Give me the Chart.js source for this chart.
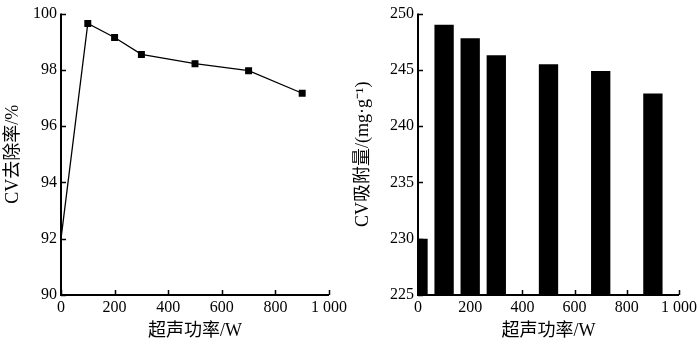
<!DOCTYPE html>
<html>
<head>
<meta charset="utf-8">
<script src="https://cdn.jsdelivr.net/npm/chart.js@4/dist/chart.umd.min.js"></script>
<style>
  html, body { margin: 0; padding: 0; background: #fff; }
  #wrap { position: relative; width: 700px; height: 345px; }
  .box { position: absolute; top: 0; width: 350px; height: 345px; }
  #leftBox { left: 0; }
  #rightBox { left: 350px; }
</style>
</head>
<body>
<div id="wrap">
  <div class="box" id="leftBox"><canvas id="removal-chart"></canvas></div>
  <div class="box" id="rightBox"><canvas id="adsorb-chart"></canvas></div>
</div>
<script>
// data
const powers = [0, 100, 200, 300, 500, 700, 900];            // 超声功率/W
const removalRate = [92.0, 99.65, 99.15, 98.55, 98.22, 97.97, 97.17];  // CV去除率/%
const adsorption = [230.0, 249.0, 247.8, 246.3, 245.5, 244.9, 242.9];  // CV吸附量/(mg·g-1)

const FONT = "'Liberation Serif', 'Noto Sans CJK SC', serif";
Chart.defaults.font.family = FONT;
Chart.defaults.font.size = 16;
Chart.defaults.color = '#000';

// ticks in the original point inward, draw them over the plot
const inwardTicks = {
	id: 'inwardTicks',
	afterDatasetsDraw(chart) {
		const { ctx, chartArea } = chart;
		const x = chart.scales.x;
		const y = chart.scales.y;
		ctx.save();
		ctx.strokeStyle = '#000';
		ctx.lineWidth = 1.5;
		ctx.beginPath();
		x.ticks.forEach((t, i) => {
			const px = Math.round(x.getPixelForTick(i)) + 0.5;
			ctx.moveTo(px, chartArea.bottom);
			ctx.lineTo(px, chartArea.bottom - 5);
		});
		y.ticks.forEach((t, i) => {
			const py = Math.round(y.getPixelForTick(i)) + 0.5;
			ctx.moveTo(chartArea.left, py);
			ctx.lineTo(chartArea.left + 5, py);
		});
		ctx.stroke();
		// axis lines on top of the marks
		ctx.lineWidth = 2;
		ctx.beginPath();
		ctx.moveTo(chartArea.left, chartArea.top);
		ctx.lineTo(chartArea.left, chartArea.bottom);
		ctx.lineTo(chartArea.right, chartArea.bottom);
		ctx.stroke();
		ctx.restore();
	}
};

function powerLabel(v) {
	return v === 1000 ? '1 000' : String(v);
}

function xAxis(afterFitHeight) {
	return {
		type: 'linear',
		min: 0,
		max: 1000,
		offset: false,
		ticks: { stepSize: 200, padding: 3, maxRotation: 0, callback: powerLabel },
		grid: { display: false, drawTicks: false, offset: false },
		border: { display: false },
		title: { display: true, text: '超声功率/W', font: { size: 18 }, padding: { top: 0, bottom: 3 } },
		afterFit(scale) { scale.height = afterFitHeight; }
	};
}

function yAxis(min, max, step, titleText, width) {
	return {
		min: min,
		max: max,
		beginAtZero: false,
		ticks: { stepSize: step, padding: 4 },
		grid: { display: false, drawTicks: false },
		border: { display: false },
		title: { display: true, text: titleText, font: { size: 18 }, padding: { top: 2, bottom: 0 } },
		afterFit(scale) { scale.width = width; }
	};
}

// left: removal rate line chart
const removalCtx = document.getElementById('removal-chart').getContext('2d');
const removalChart = new Chart(removalCtx, {
	type: 'line',
	data: {
		datasets: [{
			label: 'CV去除率',
			data: powers.map((p, i) => ({ x: p, y: removalRate[i] })),
			borderColor: '#000',
			backgroundColor: '#000',
			borderWidth: 1.3,
			pointStyle: 'rect',
			pointRadius: ctx => ctx.dataIndex === 0 ? 0 : 4,
			tension: 0,
			fill: false
		}]
	},
	options: {
		responsive: true,
		maintainAspectRatio: false,
		animation: false,
		layout: { padding: { top: 9, right: 20, left: 0, bottom: 0 } },
		plugins: { legend: { display: false }, tooltip: { enabled: false } },
		scales: {
			x: xAxis(50),
			y: yAxis(90, 100, 2, 'CV去除率/%', 61)
		}
	},
	plugins: [inwardTicks]
});

// right: adsorption bar chart
const adsorbCtx = document.getElementById('adsorb-chart').getContext('2d');
const adsorbChart = new Chart(adsorbCtx, {
	type: 'bar',
	data: {
		datasets: [{
			label: 'CV吸附量',
			data: powers.map((p, i) => ({ x: p, y: adsorption[i] })),
			backgroundColor: '#000',
			borderWidth: 0,
			categoryPercentage: 1,
			barPercentage: 0.74
		}]
	},
	options: {
		responsive: true,
		maintainAspectRatio: false,
		animation: false,
		layout: { padding: { top: 9, right: 17, left: 0, bottom: 0 } },
		plugins: { legend: { display: false }, tooltip: { enabled: false } },
		scales: {
			x: xAxis(50),
			y: yAxis(225, 250, 5, 'CV吸附量/(mg·g⁻¹)', 68)
		}
	},
	plugins: [inwardTicks]
});
</script>
</body>
</html>
